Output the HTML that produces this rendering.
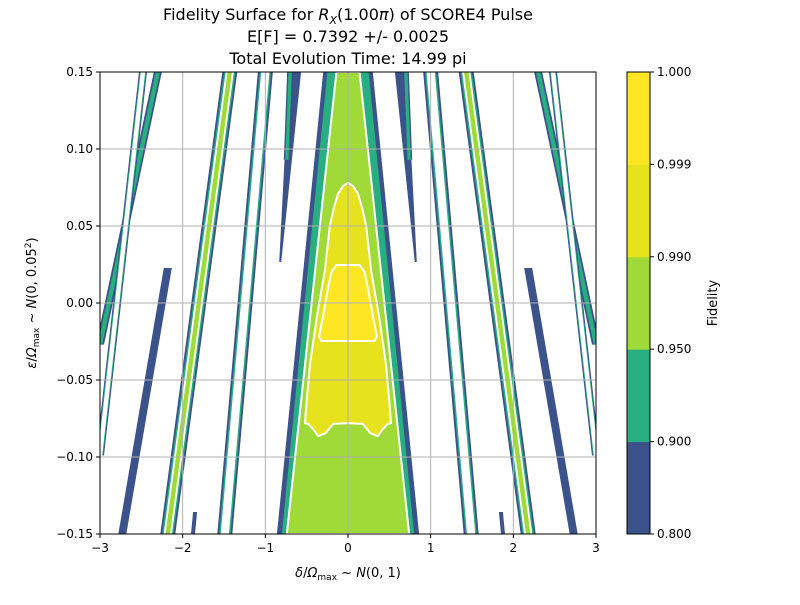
<!DOCTYPE html>
<html><head><meta charset="utf-8"><style>
body{margin:0;background:#fff;font-family:"Liberation Sans","DejaVu Sans",sans-serif}
svg text{font-family:"DejaVu Sans","Liberation Sans",sans-serif;fill:#000}
</style></head><body>
<svg id="c" width="800" height="600" xmlns="http://www.w3.org/2000/svg">
<rect width="800" height="600" fill="#fff"/>
<g id="plot"></g>
<g id="grid"></g>
<rect x="100" y="72" width="496" height="462" fill="none" stroke="#000" stroke-width="1"/>
<g id="axes"></g>
<g id="cbar"></g>
<text x="348" y="20" font-size="16" text-anchor="middle">Fidelity Surface for <tspan font-style="italic">R</tspan><tspan font-style="italic" font-size="11" dy="4">X</tspan><tspan dy="-4">(1.00</tspan><tspan font-style="italic">π</tspan>) of SCORE4 Pulse</text>
<text x="348" y="42" font-size="16" text-anchor="middle">E[F] = 0.7392 +/- 0.0025</text>
<text x="348" y="64" font-size="16" text-anchor="middle">Total Evolution Time: 14.99 pi</text>
<text x="348" y="577" font-size="13" text-anchor="middle"><tspan font-style="italic">δ</tspan>/<tspan font-style="italic">Ω</tspan><tspan font-size="9" dy="3">max</tspan><tspan dy="-3"> ~ </tspan><tspan font-style="italic">N</tspan>(0, 1)</text>
<text transform="translate(36,303) rotate(-90)" font-size="13" text-anchor="middle"><tspan font-style="italic">ε</tspan>/<tspan font-style="italic">Ω</tspan><tspan font-size="9" dy="3">max</tspan><tspan dy="-3"> ~ </tspan><tspan font-style="italic">N</tspan>(0, 0.05<tspan font-size="9" dy="-5">2</tspan><tspan dy="5">)</tspan></text>
<text transform="translate(717,303) rotate(-90)" font-size="13" text-anchor="middle">Fidelity</text>
</svg>
<script>
const NS="http://www.w3.org/2000/svg";
// ---- data ----
const xTicks=[-3,-2,-1,0,1,2,3];
const yTicks=[0.15,0.10,0.05,0.00,-0.05,-0.10,-0.15];
const levels=[0.800,0.900,0.950,0.990,0.999,1.000];
const levelColors=["#3b528b","#28ae80","#a0da39","#e6e21d","#fde725"];
// stripes: [xTop,yTop,xBot,yBot,widthTop(px),widthBot(px),type]
const stripes=[
 [-2.30,0.15,-3.0,-0.027,8,8,"green"],
 [-2.48,0.15,-3.0,-0.099,8,8,"white"],
 [-2.18,0.0227,-2.73,-0.15,8,8,"blue"],
 [-1.43,0.15,-2.18,-0.15,15,15,"lg"],
 [-1.00,0.15,-1.49,-0.15,15,15,"white"],
 [-0.64,0.15,-0.82,0.0266,12,2,"blue"],
 [-0.70,0.15,-0.74,0.093,6,6,"green"],
 [-1.85,-0.1357,-1.875,-0.15,4,4,"blue"],
 [2.30,0.15,3.0,-0.027,8,8,"green"],
 [2.48,0.15,3.0,-0.099,8,8,"white"],
 [2.18,0.0227,2.73,-0.15,8,8,"blue"],
 [1.43,0.15,2.18,-0.15,15,15,"lg"],
 [1.00,0.15,1.49,-0.15,15,15,"white"],
 [0.64,0.15,0.82,0.0266,12,2,"blue"],
 [0.70,0.15,0.74,0.093,6,6,"green"],
 [1.85,-0.1357,1.875,-0.15,4,4,"blue"]
];
// central cone half-widths [top, bottom] at y=0.15 and y=-0.15
const coneBlue=[0.30,0.86];
const coneGreen=[0.25,0.80];
const coneLight=[0.14,0.74];
const yellowRegion=[[0,0.078],[0.06,0.076],[0.12,0.071],[0.17,0.062],[0.22,0.05],[0.28,0.021],[0.38,-0.01],[0.46,-0.04],[0.51,-0.07],[0.52,-0.078],[0.48,-0.0785],[0.42,-0.082],[0.36,-0.0865],[0.27,-0.0845],[0.18,-0.0785],[0,-0.078],[-0.18,-0.0785],[-0.27,-0.0845],[-0.36,-0.0865],[-0.42,-0.082],[-0.48,-0.0785],[-0.52,-0.078],[-0.51,-0.07],[-0.46,-0.04],[-0.38,-0.01],[-0.28,0.021],[-0.22,0.05],[-0.17,0.062],[-0.12,0.071],[-0.06,0.076]];
const innerRegion=[[0,0.0247],[0.14,0.0247],[0.20,0.02],[0.24,0.01],[0.30,-0.008],[0.35,-0.022],[0.32,-0.0247],[-0.32,-0.0247],[-0.35,-0.022],[-0.30,-0.008],[-0.24,0.01],[-0.20,0.02],[-0.14,0.0247]];
// ---- scales ----
const X=v=>100+(v+3)/6*496;
const Y=v=>72+(0.15-v)/0.30*462;
function el(tag,attrs,parent){const e=document.createElementNS(NS,tag);for(const k in attrs)e.setAttribute(k,attrs[k]);parent.appendChild(e);return e;}
const plot=document.getElementById('plot');
const defs=el('defs',{},plot);
const cp=el('clipPath',{id:'clp'},defs);
el('rect',{x:100,y:72,width:496,height:462},cp);
const g=el('g',{'clip-path':'url(#clp)'},plot);
function band(s,frac,fill){
 const x0=X(s[0]),y0=Y(s[1]),x1=X(s[2]),y1=Y(s[3]);
 const w0=s[4]*frac/2,w1=s[5]*frac/2;
 return el('polygon',{points:`${x0-w0},${y0} ${x0+w0},${y0} ${x1+w1},${y1} ${x1-w1},${y1}`,fill:fill},g);
}
stripes.forEach((s,i)=>{
 const p=band(s,1,levelColors[0]);
 
 
 if(s[6]==="green"){band(s,0.55,levelColors[1]);}
 if(s[6]==="lg"){band(s,0.75,levelColors[1]);band(s,0.55,"#fff");band(s,0.3,levelColors[2]);}
 if(s[6]==="white"){band(s,0.75,levelColors[1]);band(s,0.55,"#fff");}
});
function trap(hw,fill,stroke){
 const pts=`${X(-hw[0])},${Y(0.15)} ${X(hw[0])},${Y(0.15)} ${X(hw[1])},${Y(-0.15)} ${X(-hw[1])},${Y(-0.15)}`;
 const p=el('polygon',{points:pts,fill:fill},g);
 if(stroke){p.setAttribute('stroke',stroke);p.setAttribute('stroke-width',2);}
 return p;
}
let p=trap(coneBlue,levelColors[0]);


p=trap(coneGreen,levelColors[1]);


p=trap(coneLight,levelColors[2],"#fff");


function region(pts,fill,name){
 const e=el('polygon',{points:pts.map(q=>X(q[0])+','+Y(q[1])).join(' '),fill:fill,stroke:'#fff','stroke-width':2,'stroke-linejoin':'round'},g);
 
 
}
region(yellowRegion,levelColors[3],'region-level-0.99');
region(innerRegion,levelColors[4],'region-level-0.999');
// grid + ticks
const grid=document.getElementById('grid'),axes=document.getElementById('axes');
xTicks.forEach(t=>{
 const x=X(t);
 const l=el('line',{x1:x,x2:x,y1:72,y2:534,stroke:'#b0b0b0','stroke-width':1},grid);
 
 
 el('line',{x1:x,x2:x,y1:534,y2:538,stroke:'#000'},axes);
 const tx=el('text',{x:x,y:552,'font-size':12,'text-anchor':'middle'},axes);
 tx.textContent=t<0?'−'+Math.abs(t):String(t);
 
 
});
yTicks.forEach(t=>{
 const y=Y(t);
 const l=el('line',{x1:100,x2:596,y1:y,y2:y,stroke:'#b0b0b0','stroke-width':1},grid);
 
 
 el('line',{x1:96,x2:100,y1:y,y2:y,stroke:'#000'},axes);
 const tx=el('text',{x:93,y:y+4,'font-size':12,'text-anchor':'end'},axes);
 tx.textContent=(t<0?'−':'')+Math.abs(t).toFixed(2);
 
 
});
// colorbar
const cb=document.getElementById('cbar');
const bh=462/levelColors.length;
levelColors.forEach((c,i)=>{
 const r=el('rect',{x:627,y:534-(i+1)*bh,width:23,height:bh+0.5,fill:c},cb);
 
 
});
el('rect',{x:627,y:72,width:23,height:462,fill:'none',stroke:'#000'},cb);
levels.forEach((v,i)=>{
 const y=534-i*bh;
 el('line',{x1:650,x2:654,y1:y,y2:y,stroke:'#000'},cb);
 const tx=el('text',{x:657,y:y+4,'font-size':12},cb);
 tx.textContent=v.toFixed(3);
 
 
});
</script>
</body></html>
